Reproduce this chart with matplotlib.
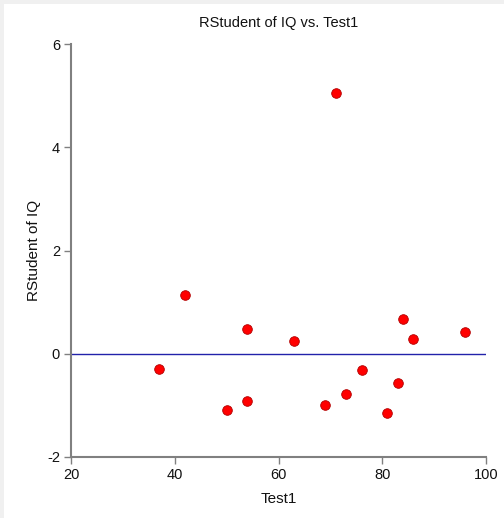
import matplotlib.pyplot as plt
from matplotlib.patches import Rectangle

# Test1 scores and RStudent residuals of IQ
test1 = [37, 42, 50, 54, 54, 63, 69, 71, 73, 76, 81, 83, 84, 86, 96]
rstudent = [-0.29, 1.14, -1.09, 0.48, -0.91, 0.25, -0.99, 5.06, -0.78, -0.31, -1.14, -0.56, 0.68, 0.29, 0.43]

x_ticks = [20, 40, 60, 80, 100]
y_ticks = [-2, 0, 2, 4, 6]

plt.rcParams['font.family'] = ['Liberation Sans', 'DejaVu Sans']
plt.rcParams['axes.unicode_minus'] = False

fig = plt.figure(figsize=(5.04, 5.18), dpi=100)
fig.patch.set_facecolor('white')
# light grey frame on the top and left edges
fig.patches.append(Rectangle((0, 0), 1, 1, transform=fig.transFigure, facecolor='#f0f0f0',
                             edgecolor='none', zorder=-2))
fig.patches.append(Rectangle((4 / 504, 0), 1, 1 - 4 / 518, transform=fig.transFigure,
                             facecolor='white', edgecolor='none', zorder=-1))

ax = fig.add_axes([71 / 504, 1 - 457 / 518, (486 - 71) / 504, (457 - 44) / 518])
ax.set_facecolor('none')

ax.axhline(0, color='#2222aa', linewidth=1.0, zorder=1)
ax.scatter(test1, rstudent, s=48, color='#ff0000', edgecolors='#b00000', linewidths=0.6, zorder=3)

ax.set_xlim(20, 100)
ax.set_ylim(-2, 6)
ax.set_xticks(x_ticks)
ax.set_yticks(y_ticks)

for side in ['top', 'right']:
    ax.spines[side].set_visible(False)
for side in ['left', 'bottom']:
    ax.spines[side].set_color('#808080')
    ax.spines[side].set_linewidth(1.5)

ax.tick_params(axis='both', direction='out', length=5, width=1, color='#808080',
               labelsize=10.5, labelcolor='#111111', pad=3)

ax.set_title('RStudent of IQ vs. Test1', fontsize=10.5, color='#111111', pad=12)
ax.set_xlabel('Test1', fontsize=11, color='#111111', labelpad=7)
ax.set_ylabel('RStudent of IQ', fontsize=11, color='#111111', labelpad=4)

fig.savefig('out.png', dpi=100)
